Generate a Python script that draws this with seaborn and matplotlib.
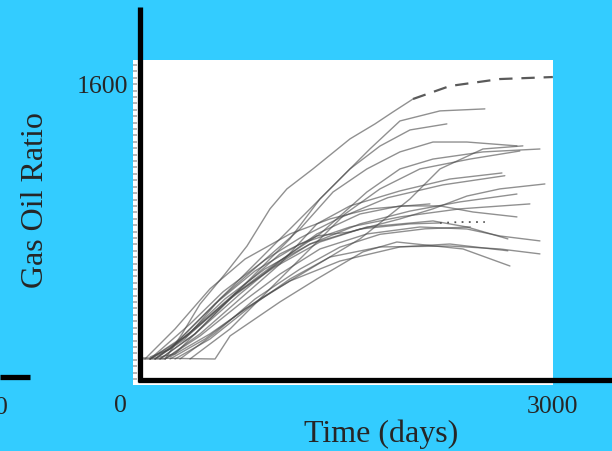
import matplotlib
matplotlib.use("Agg")
import matplotlib.pyplot as plt
import seaborn as sns
import pandas as pd
from matplotlib.lines import Line2D
from matplotlib.ticker import MultipleLocator

sns.set_style("white")
plt.rcParams['font.family'] = ['Liberation Serif', 'DejaVu Serif']

BG = '#33CCFF'

# ---- data: time (days) and gas oil ratio ----
curves = {
    "A": ([22, 182, 305, 436, 617, 777, 944, 1067, 1256, 1525, 1707, 1837, 1983],
          [109, 109, 246, 409, 573, 726, 929, 1038, 1147, 1311, 1393, 1458, 1529]),
    "B": ([73, 218, 436, 726, 1089, 1380, 1670, 1888, 2179, 2505],
          [120, 164, 328, 546, 819, 1038, 1256, 1409, 1464, 1475]),
    "C": ([145, 254, 508, 799, 1089, 1307, 1525, 1743, 1961, 2229],
          [120, 137, 328, 546, 765, 983, 1147, 1272, 1360, 1393]),
    "D": ([109, 327, 581, 871, 1162, 1402, 1648, 1888, 2128, 2375, 2738],
          [109, 218, 437, 628, 819, 1021, 1147, 1240, 1294, 1294, 1273]),
    "E": ([145, 399, 690, 980, 1307, 1648, 1888, 2128, 2491, 2905],
          [109, 246, 464, 628, 792, 1021, 1147, 1201, 1240, 1256]),
    "F": ([218, 508, 871, 1235, 1598, 1961, 2179, 2491, 2781],
          [120, 246, 437, 601, 765, 983, 1147, 1256, 1273]),
    "G": ([182, 436, 726, 1017, 1285, 1525, 1888, 2251, 2629],
          [109, 246, 437, 628, 847, 945, 1027, 1092, 1125]),
    "H": ([73, 218, 436, 726, 1017, 1285, 1525, 1888, 2128, 2375, 2614, 2941],
          [109, 164, 300, 492, 683, 781, 803, 874, 929, 999, 1038, 1065]),
    "I": ([109, 363, 654, 944, 1235, 1598, 1961, 2324, 2738],
          [109, 246, 437, 601, 737, 847, 917, 967, 1010]),
    "J": ([145, 399, 726, 1017, 1285, 1598, 1888, 2179, 2418, 2738],
          [109, 246, 464, 644, 792, 901, 945, 945, 912, 885]),
    "K": ([73, 327, 617, 908, 1235, 1598, 1961, 2179],
          [109, 229, 437, 601, 737, 819, 847, 852]),
    "L": ([109, 399, 690, 980, 1307, 1648, 2128, 2375, 2672],
          [109, 273, 464, 612, 748, 830, 863, 830, 765]),
    "M": ([182, 436, 726, 1017, 1307, 1648, 2033, 2375, 2614, 2905],
          [109, 235, 410, 573, 710, 792, 830, 819, 781, 754]),
    "N": ([254, 508, 799, 1089, 1380, 1743, 2251, 2614, 2905],
          [109, 218, 393, 546, 666, 721, 726, 710, 683]),
    "O": ([20, 545, 654, 1017, 1285, 1619, 1866, 2346, 2687],
          [115, 109, 235, 421, 546, 694, 748, 710, 617]),
    "P": ([218, 472, 763, 1089, 1452, 1888, 2251, 2672],
          [109, 218, 383, 535, 644, 721, 737, 700]),
    "Q": ([73, 290, 545, 836, 1162, 1525, 1888, 2324, 2832],
          [109, 218, 410, 590, 737, 830, 885, 929, 956]),
    "R": ([363, 654, 944, 1235, 1489, 1743, 2033, 2397, 2759],
          [109, 273, 492, 710, 901, 1038, 1147, 1201, 1245]),
    "S": ([73, 363, 603, 908, 1162, 1452, 1800, 2200, 2650],
          [109, 300, 476, 650, 770, 880, 990, 1060, 1110]),
    "T": ([36, 254, 508, 763, 1089, 1380, 1670, 2106],
          [109, 273, 492, 655, 792, 874, 929, 956]),
    "U": ([290, 545, 836, 1162, 1452, 1743, 2070, 2400],
          [109, 250, 437, 600, 720, 790, 820, 830]),
}
dashed_tail_t = [1983, 2251, 2614, 2999]
dashed_tail_v = [1529, 1600, 1638, 1649]
dotted_tail_t = [2179, 2324, 2505]
dotted_tail_v = [852, 857, 857]

rows = []
for name, (ts, vs) in curves.items():
    for t, v in zip(ts, vs):
        rows.append({"curve": name, "t": t, "v": v})
df = pd.DataFrame(rows)
df_dash = pd.DataFrame({"curve": "A2", "t": dashed_tail_t, "v": dashed_tail_v})
df_dot = pd.DataFrame({"curve": "K2", "t": dotted_tail_t, "v": dotted_tail_v})

W, H = 612, 452
fig = plt.figure(figsize=(W / 100, H / 100), dpi=100, facecolor=BG)

def fx(px):
    return px / W

def fy(py):
    return 1 - py / H

ax = fig.add_axes([fx(133), fy(386), fx(553) - fx(133), fy(61) - fy(386)])
ax.set_facecolor('white')

sns.lineplot(data=df, x='t', y='v', units='curve', estimator=None,
             color='#474747', alpha=0.6, linewidth=1.0, ax=ax, sort=False)
sns.lineplot(data=df_dash, x='t', y='v', estimator=None, color='#5a5a5a',
             linewidth=1.6, linestyle=(0, (6, 4)), ax=ax, sort=False)
sns.lineplot(data=df_dot, x='t', y='v', estimator=None, color='#555555',
             linewidth=1.3, linestyle=(0, (1, 3)), ax=ax, sort=False)

ax.set_xlim(-51, 3000)
ax.set_ylim(-33, 1742)
ax.set_xlabel('')
ax.set_ylabel('')
for s in ax.spines.values():
    s.set_visible(False)
ax.yaxis.set_major_locator(MultipleLocator(35))
ax.tick_params(axis='y', direction='in', length=3, width=1.2, color='#aaaaaa',
               labelleft=False, left=True)
ax.set_xticks([])

# thick black axis lines of the slide
lw = 3.8
fig.add_artist(Line2D([fx(140), fx(140)], [fy(8), fy(383)], color='black', lw=lw,
                      transform=fig.transFigure, solid_capstyle='butt'))
fig.add_artist(Line2D([fx(138), fx(612)], [fy(381), fy(381)], color='black', lw=lw,
                      transform=fig.transFigure, solid_capstyle='butt'))
fig.add_artist(Line2D([fx(0), fx(30)], [fy(378), fy(378)], color='black', lw=lw,
                      transform=fig.transFigure, solid_capstyle='butt'))

fs_tick = 18.5
fs_lab = 23
fig.text(fx(128), fy(87), '1600', ha='right', va='center', fontsize=fs_tick)
fig.text(fx(120), fy(406), '0', ha='center', va='center', fontsize=fs_tick)
fig.text(fx(553), fy(407), '3000', ha='center', va='center', fontsize=fs_tick)
fig.text(fx(1), fy(408), '0', ha='center', va='center', fontsize=fs_tick)
fig.text(fx(381), fy(434), 'Time (days)', ha='center', va='center', fontsize=fs_lab)
fig.text(fx(36), fy(200), 'Gas Oil Ratio', ha='center', va='center', fontsize=fs_lab,
         rotation=90)

fig.savefig('out.png', dpi=100, facecolor=BG)
